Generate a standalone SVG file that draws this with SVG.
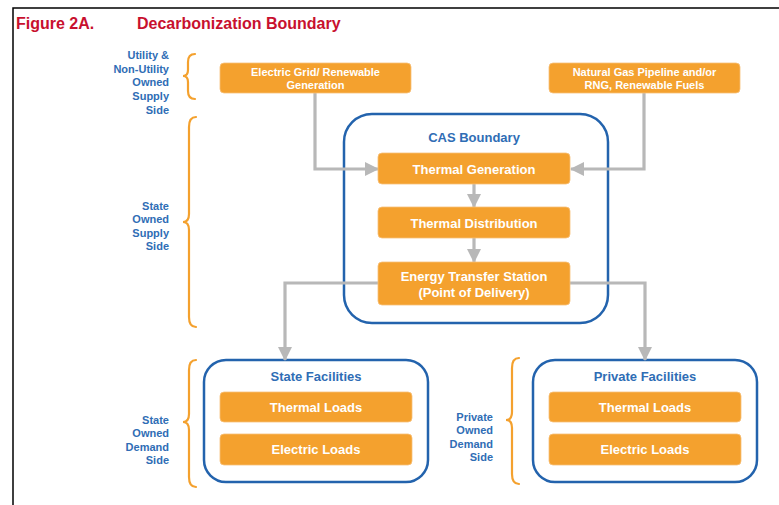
<svg xmlns="http://www.w3.org/2000/svg" width="779" height="505" viewBox="0 0 779 505">
<style>
.title{font-family:"Liberation Sans",Arial,sans-serif;font-weight:bold;font-size:16px;fill:#c8102e}
.side{font-family:"Liberation Sans",Arial,sans-serif;font-weight:bold;font-size:11px;fill:#2f6db5;text-anchor:end}
.box{fill:#f4a12e;stroke:#f7c07a;stroke-width:0.8}
.bt{font-family:"Liberation Sans",Arial,sans-serif;font-weight:bold;font-size:13px;fill:#ffffff;text-anchor:middle}
.bts{font-family:"Liberation Sans",Arial,sans-serif;font-weight:bold;font-size:11px;fill:#ffffff;text-anchor:middle}
.cont{fill:none;stroke:#2363ad;stroke-width:2.5}
.ct{font-family:"Liberation Sans",Arial,sans-serif;font-weight:bold;font-size:13px;fill:#2f6db5;text-anchor:middle}
.brace{fill:none;stroke:#f4a12e;stroke-width:2.2;stroke-linecap:round}
.conn{fill:none;stroke:#b8b8b8;stroke-width:3.2}
</style>
<defs>
<marker id="ah" markerUnits="userSpaceOnUse" markerWidth="14" markerHeight="14" viewBox="0 0 14 14" refX="13" refY="7" orient="auto">
<path d="M0,0 L14,7 L0,14 Z" fill="#b8b8b8"/>
</marker>
</defs>
<rect width="779" height="505" fill="#ffffff"/>
<path d="M13,505 V8 H779" fill="none" stroke="#000" stroke-width="1.5"/>
<text class="title" x="16" y="29">Figure 2A.</text>
<text class="title" x="137" y="29">Decarbonization Boundary</text>

<g id="braces">
<path class="brace" d="M195,54 Q188,54 188,62 V70 Q188,76 183,76 Q188,76 188,82 V91 Q188,99 195,99"/>
<path class="brace" d="M196,117 Q189,117 189,127 V214 Q189,222 183,222 Q189,222 189,230 V317 Q189,327 196,327"/>
<path class="brace" d="M196,360 Q189,360 189,370 V414 Q189,422 183,422 Q189,422 189,430 V477 Q189,487 196,487"/>
<path class="brace" d="M519,358 Q512,358 512,368 V412 Q512,420 506,420 Q512,420 512,428 V474 Q512,484 519,484"/>
</g>

<g id="labels">
<text class="side" x="169" y="59">Utility &amp;</text>
<text class="side" x="169" y="73">Non-Utility</text>
<text class="side" x="169" y="86">Owned</text>
<text class="side" x="169" y="100">Supply</text>
<text class="side" x="169" y="114">Side</text>
<text class="side" x="169" y="210">State</text>
<text class="side" x="169" y="223">Owned</text>
<text class="side" x="169" y="237">Supply</text>
<text class="side" x="169" y="250">Side</text>
<text class="side" x="169" y="424">State</text>
<text class="side" x="169" y="437">Owned</text>
<text class="side" x="169" y="451">Demand</text>
<text class="side" x="169" y="464">Side</text>
<text class="side" x="493" y="421">Private</text>
<text class="side" x="493" y="434">Owned</text>
<text class="side" x="493" y="448">Demand</text>
<text class="side" x="493" y="461">Side</text>
</g>

<g id="cas-boundary">
<rect class="cont" x="344" y="114" width="264" height="209" rx="28"/>
<text class="ct" x="474" y="142">CAS Boundary</text>
</g>
<g id="state-facilities">
<rect class="cont" x="204" y="360" width="224" height="122" rx="22"/>
<text class="ct" x="316" y="381">State Facilities</text>
</g>
<g id="private-facilities">
<rect class="cont" x="533" y="360" width="224" height="122" rx="22"/>
<text class="ct" x="645" y="381">Private Facilities</text>
</g>

<g id="connectors">
<path class="conn" d="M315,93 V169 H378" marker-end="url(#ah)"/>
<path class="conn" d="M644,93 V169 H571" marker-end="url(#ah)"/>
<path class="conn" d="M474,184 V207" marker-end="url(#ah)"/>
<path class="conn" d="M474,238 V262" marker-end="url(#ah)"/>
<path class="conn" d="M379,283 H285 V360" marker-end="url(#ah)"/>
<path class="conn" d="M569,283 H645 V360" marker-end="url(#ah)"/>
</g>

<g id="electric-grid">
<rect class="box" x="220" y="63" width="191" height="30" rx="4"/>
<text class="bts" x="315.5" y="76">Electric Grid/ Renewable</text>
<text class="bts" x="315.5" y="89">Generation</text>
</g>
<g id="natural-gas">
<rect class="box" x="549" y="63" width="191" height="30" rx="4"/>
<text class="bts" x="644.5" y="76">Natural Gas Pipeline and/or</text>
<text class="bts" x="644.5" y="89">RNG, Renewable Fuels</text>
</g>
<g id="thermal-generation">
<rect class="box" x="378" y="153" width="192" height="31" rx="4"/>
<text class="bt" x="474" y="173.5">Thermal Generation</text>
</g>
<g id="thermal-distribution">
<rect class="box" x="378" y="207" width="192" height="31" rx="4"/>
<text class="bt" x="474" y="227.5">Thermal Distribution</text>
</g>
<g id="energy-transfer-station">
<rect class="box" x="378" y="262" width="192" height="43" rx="4"/>
<text class="bt" x="474" y="280.5">Energy Transfer Station</text>
<text class="bt" x="474" y="296.5">(Point of Delivery)</text>
</g>
<g id="state-thermal-loads">
<rect class="box" x="220" y="392" width="192" height="30" rx="4"/>
<text class="bt" x="316" y="411.5">Thermal Loads</text>
</g>
<g id="state-electric-loads">
<rect class="box" x="220" y="434" width="192" height="31" rx="4"/>
<text class="bt" x="316" y="454">Electric Loads</text>
</g>
<g id="private-thermal-loads">
<rect class="box" x="549" y="392" width="192" height="30" rx="4"/>
<text class="bt" x="645" y="411.5">Thermal Loads</text>
</g>
<g id="private-electric-loads">
<rect class="box" x="549" y="434" width="192" height="31" rx="4"/>
<text class="bt" x="645" y="454">Electric Loads</text>
</g>
</svg>
